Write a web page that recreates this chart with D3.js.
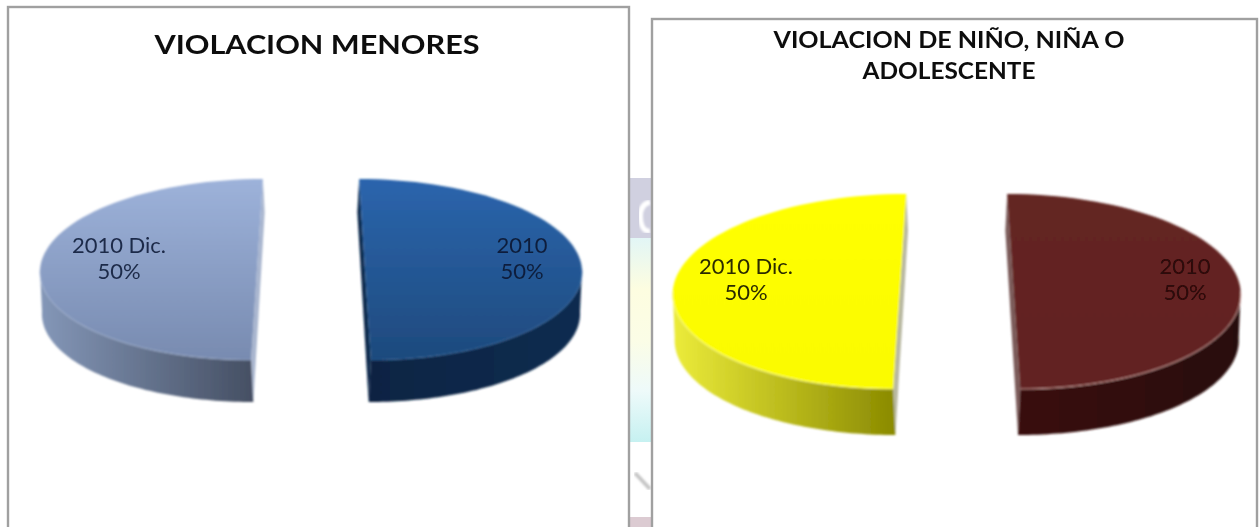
<!DOCTYPE html>
<html>
<head>
<meta charset="utf-8">
<script src="https://cdn.jsdelivr.net/npm/d3@7/dist/d3.min.js"></script>
<style>html,body{margin:0;padding:0;background:#fff;overflow:hidden}svg{display:block}</style>
</head>
<body>
<script>
// ---- data ----
const categories = ["2010", "2010 Dic."];
const valuesMenores = [50, 50];
const valuesNino = [50, 50];
const titleMenores = ["VIOLACION MENORES"];
const titleNino = ["VIOLACION DE NIÑO, NIÑA O", "ADOLESCENTE"];

// ---- layout ----
const W = 1259, H = 527;
const charts = [
  { id: "a", values: valuesMenores, title: titleMenores,
    box: [8, 7, 621, 530], titleX: 317, titleY: [54], titleSize: 27, titleLen: [325],
    vx: 311, cy: 269.5, R: 217, ry: 90.5, depth: 42, gap: 54, k: 0.109, wall: 2,
    labelX: [522, 119], labelY: [253, 279], labelSize: 22,
    labelFill: ["#0d1f3c", "#1c2a48"],
    top: [["#2b65ad", "#1e4a7d"], ["#9db2da", "#788bb0"]],
    side: [["#0c2443", "#102c50"], ["#8497b8", "#454f63"]],
    wallFill: ["#0d2a4e", "#a9b6cf"], rim: ["#3f72b0", "#b0c0dc"], rimOp: 0.5 },
  { id: "b", values: valuesNino, title: titleNino,
    box: [652, 19, 605, 520], titleX: 949, titleY: [48, 79], titleSize: 23.5, titleLen: [351, 173],
    vx: 956.7, cy: 291.5, R: 227, ry: 97.5, depth: 46, gap: 57, k: 0.115, wall: 2,
    labelX: [1185, 746], labelY: [274, 300], labelSize: 22,
    labelFill: ["#2a0808", "#2c2c00"],
    top: [["#642523", "#622422"], ["#ffff00", "#fbfb00"]],
    side: [["#3a100e", "#280b09"], ["#ecec3a", "#8a8a00"]],
    wallFill: ["#7a5a58", "#b8b8a0"], rim: ["#e4b4b0", "#f6f6a0"], rimOp: 0.8 }
];

const svg = d3.select("body").append("svg").attr("width", W).attr("height", H);
const defs = svg.append("defs");
defs.append("filter").attr("id", "soft").attr("x", "-5%").attr("y", "-5%").attr("width", "110%").attr("height", "110%")
  .append("feGaussianBlur").attr("stdDeviation", 0.8);
defs.append("filter").attr("id", "softText").attr("x", "-5%").attr("y", "-20%").attr("width", "110%").attr("height", "140%")
  .append("feGaussianBlur").attr("stdDeviation", 0.45);

function gradient(id, horizontal, stops) {
  const g = defs.append("linearGradient").attr("id", id)
    .attr("x1", 0).attr("y1", 0).attr("x2", horizontal ? 1 : 0).attr("y2", horizontal ? 0 : 1);
  stops.forEach((c, i) => g.append("stop").attr("offset", i / (stops.length - 1)).attr("stop-color", c));
  return `url(#${id})`;
}

// ---- faded background strip between the two panels ----
const stripFill = gradient("strip", false, ["#e2f6f6", "#fdfde0", "#fbfde6", "#eefafa", "#c6f1f1"]);
const strip = svg.append("g");
strip.append("rect").attr("x", 629).attr("y", 178).attr("width", 23).attr("height", 60).attr("fill", "#d0d0e0");
strip.append("rect").attr("x", 629).attr("y", 238).attr("width", 23).attr("height", 204).attr("fill", stripFill);
strip.append("path").attr("d", "M650,202 Q638,205 641,222 Q643,232 650,231")
  .attr("fill", "none").attr("stroke", "#fff").attr("stroke-width", 5).attr("filter", "url(#soft)");
strip.append("path").attr("d", "M635,473 L650,489").attr("stroke", "#c6c6c6").attr("stroke-width", 4).attr("filter", "url(#soft)");
strip.append("rect").attr("x", 630).attr("y", 517).attr("width", 22).attr("height", 10).attr("fill", "#dccbd2");

// ---- panels ----
charts.forEach(c => {
  const g = svg.append("g");
  g.append("rect").attr("x", c.box[0]).attr("y", c.box[1]).attr("width", c.box[2]).attr("height", c.box[3])
    .attr("fill", "#fff").attr("stroke", "#a0a0a0").attr("stroke-width", 2.4);

  // perspective: the explosion gap narrows towards the far side of the pie
  const persp = d3.scaleLinear().domain([-1, 1]).range([1 - c.k, 1 + c.k]);
  const slices = d3.pie().sort(null).startAngle(0).endAngle(2 * Math.PI)(c.values);
  const line = d3.line().x(d => d[0]).y(d => d[1]);

  const pieG = g.append("g").attr("filter", "url(#soft)");
  slices.forEach((s, i) => {
    const dir = i === 0 ? 1 : -1;
    const P = (a, z) => {
      const v = -Math.cos(a);
      const offset = dir * (c.gap - (z ? c.wall : 0)) * persp(v);
      return [c.vx + offset + c.R * Math.sin(a), c.cy + c.ry * v + z];
    };
    const arc = (a0, a1, z) => d3.range(0, 73).map(t => P(a0 + (a1 - a0) * t / 72, z));

    const frontStart = i === 0 ? Math.PI / 2 : 3 * Math.PI / 2;
    const cusp = Math.PI;
    const back = i === 0 ? s.startAngle : s.endAngle;
    const topFill = gradient(`top${c.id}${i}`, false, c.top[i]);
    const sideFill = gradient(`side${c.id}${i}`, true, c.side[i]);

    // cut face seen behind the slice
    pieG.append("path")
      .attr("d", line([P(back, 0), P(back, c.depth * 0.8), P(cusp, c.depth), P(cusp, 0)]) + "Z")
      .attr("fill", c.wallFill[i]);

    // outer side wall
    const upper = arc(frontStart, cusp, 0);
    const lower = arc(cusp, frontStart, c.depth);
    pieG.append("path").attr("d", line(upper.concat(lower)) + "Z").attr("fill", sideFill);

    // top face
    pieG.append("path").attr("d", line(arc(s.startAngle, s.endAngle, 0)) + "Z").attr("fill", topFill);

    // lit rim along the near edge
    pieG.append("path").attr("d", line(arc(frontStart, cusp, 0)))
      .attr("fill", "none").attr("stroke", c.rim[i]).attr("stroke-width", 1).attr("stroke-opacity", c.rimOp);

    // data label
    const label = g.append("text").attr("text-anchor", "middle")
      .attr("font-family", "Lato, 'Open Sans', sans-serif").attr("font-size", c.labelSize)
      .attr("fill", c.labelFill[i]).attr("filter", "url(#softText)");
    label.append("tspan").attr("x", c.labelX[i]).attr("y", c.labelY[0]).text(categories[i]);
    label.append("tspan").attr("x", c.labelX[i]).attr("y", c.labelY[1]).text(s.value + "%");
  });

  // title
  c.title.forEach((t, j) => {
    g.append("text").attr("x", c.titleX).attr("y", c.titleY[j]).attr("text-anchor", "middle")
      .attr("font-family", "Lato, 'Open Sans', sans-serif").attr("font-weight", 700)
      .attr("font-size", c.titleSize).attr("fill", "#111")
      .attr("textLength", c.titleLen[j]).attr("lengthAdjust", "spacingAndGlyphs")
      .attr("filter", "url(#softText)").text(t);
  });
});
</script>
</body>
</html>
